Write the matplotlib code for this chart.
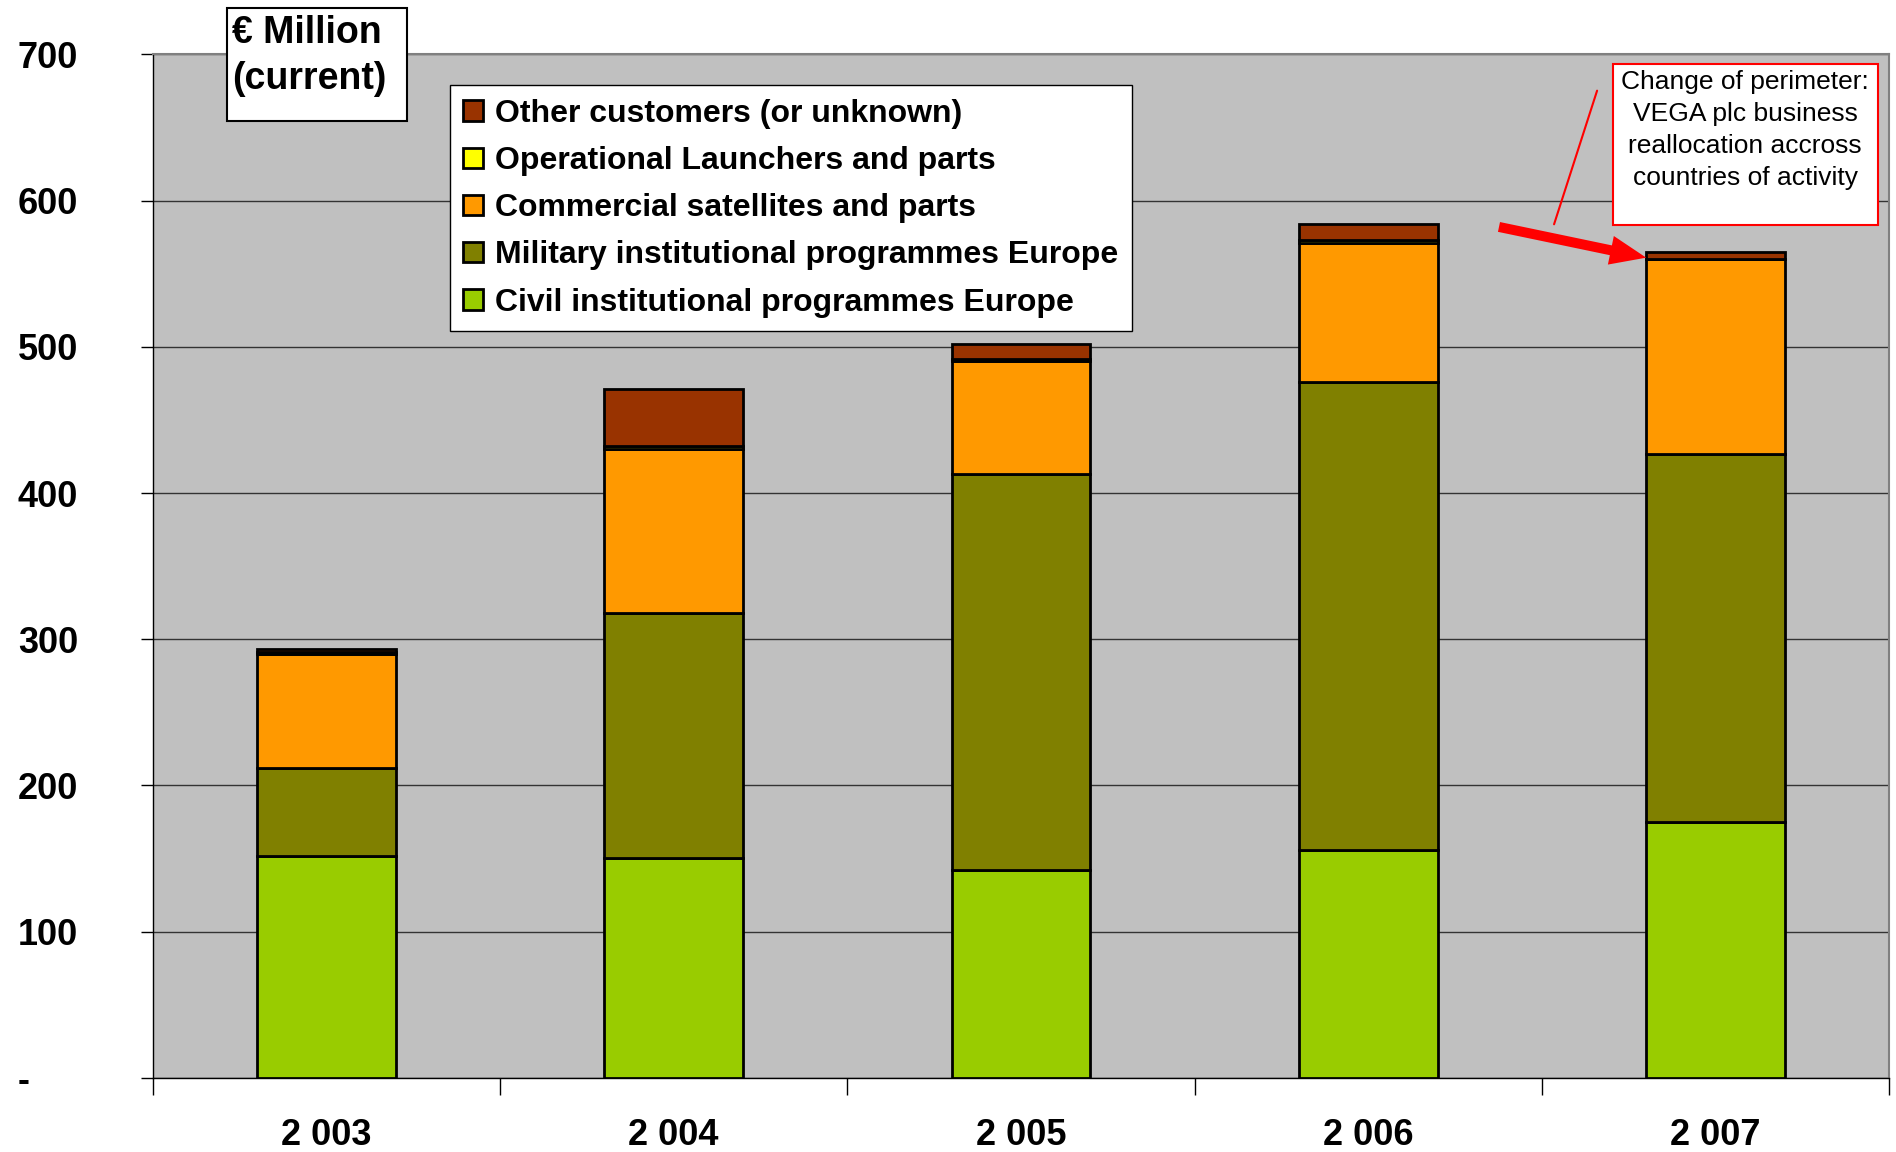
import matplotlib.pyplot as plt
from matplotlib.patches import Rectangle
import numpy as np

plt.rcParams['font.family'] = ['Liberation Sans', 'DejaVu Sans']

years = ["2 003", "2 004", "2 005", "2 006", "2 007"]
civil = [152, 150, 142, 156, 175]
military = [60, 168, 271, 320, 252]
commercial = [78, 112, 77, 95, 133]
launchers = [1, 2, 2, 2, 0]
other = [2, 39, 10, 11, 5]

series = [
    ("Civil institutional programmes Europe", civil, "#99CC00"),
    ("Military institutional programmes Europe", military, "#808000"),
    ("Commercial satellites and parts", commercial, "#FF9900"),
    ("Operational Launchers and parts", launchers, "#FFFF00"),
    ("Other customers (or unknown)", other, "#993300"),
]

fig = plt.figure(figsize=(18.96, 11.52), dpi=100)
ax = fig.add_axes([0.0805, 0.0645, 0.916, 0.8882])
ax.set_facecolor("#C0C0C0")

x = np.arange(len(years))
bottom = np.zeros(len(years))
handles = []
for name, vals, col in series:
    h = ax.bar(x, vals, width=0.4, bottom=bottom, color=col,
               edgecolor="black", linewidth=2, label=name, zorder=3)
    handles.append(h)
    bottom += np.array(vals)

ax.set_xlim(-0.5, len(years) - 0.5)
ax.set_ylim(0, 700)
ax.set_yticks(range(0, 701, 100))
ax.set_yticklabels(["-"] + [str(v) for v in range(100, 701, 100)],
                   fontsize=26, fontweight="bold", ha="left")
ax.tick_params(axis="y", length=9, width=1, pad=88, color="black")
ax.yaxis.grid(True, color="#333333", linewidth=1, zorder=1)
ax.set_axisbelow(True)

# boundary ticks on x, labels centred on the bars
ax.set_xticks(np.arange(-0.5, len(years)), minor=False)
ax.set_xticklabels([])
ax.tick_params(axis="x", which="major", length=12, width=1, color="black")
ax.set_xticks(x, minor=True)
ax.set_xticklabels(years, minor=True, fontsize=26, fontweight="bold")
ax.tick_params(axis="x", which="minor", length=0, pad=29)

for side in ["top", "right"]:
    ax.spines[side].set_color("#808080")
    ax.spines[side].set_linewidth(1.5)
for side in ["left", "bottom"]:
    ax.spines[side].set_color("black")
    ax.spines[side].set_linewidth(1)

leg = fig.legend(handles[::-1], [s[0] for s in series][::-1],
                 loc="upper left", bbox_to_anchor=(0.2373, 0.926),
                 fontsize=23, frameon=True, fancybox=False, framealpha=1,
                 handlelength=0.6, handleheight=0.6, handletextpad=0.4,
                 labelspacing=0.54, borderpad=0.42, borderaxespad=0)
leg.get_frame().set_edgecolor("black")
leg.get_frame().set_linewidth(1)
for t in leg.get_texts():
    t.set_fontweight("bold")

# unit box
fig.add_artist(Rectangle((0.1197, 0.895), 0.095, 0.098, transform=fig.transFigure,
                         facecolor="white", edgecolor="black", linewidth=1.5))
fig.text(0.1225, 0.9714, "€ Million", fontsize=27, fontweight="bold",
         ha="left", va="center")
fig.text(0.1225, 0.9314, "(current)", fontsize=27, fontweight="bold",
         ha="left", va="center")

# note box
fig.add_artist(Rectangle((0.8508, 0.8047), 0.1398, 0.1398, transform=fig.transFigure,
                         facecolor="white", edgecolor="red", linewidth=1.5))
fig.text(0.9205, 0.887, "Change of perimeter:\nVEGA plc business\nreallocation accross\ncountries of activity",
         fontsize=19, ha="center", va="center", linespacing=1.41)

# thin pointer line and thick arrow
ax.annotate("", xy=(0.8192, 0.8030), xycoords="figure fraction",
            xytext=(0.8428, 0.9236), textcoords="figure fraction",
            arrowprops=dict(arrowstyle="-", color="red", linewidth=1.5))
ax.annotate("", xy=(3.8, 561), xycoords="data",
            xytext=(0.7906, 0.8030), textcoords="figure fraction",
            arrowprops=dict(arrowstyle="simple,head_width=1.05,head_length=1.3,tail_width=0.36",
                            mutation_scale=20, shrinkA=0, shrinkB=0,
                            color="red", linewidth=0))

fig.savefig("out.png", dpi=100)
